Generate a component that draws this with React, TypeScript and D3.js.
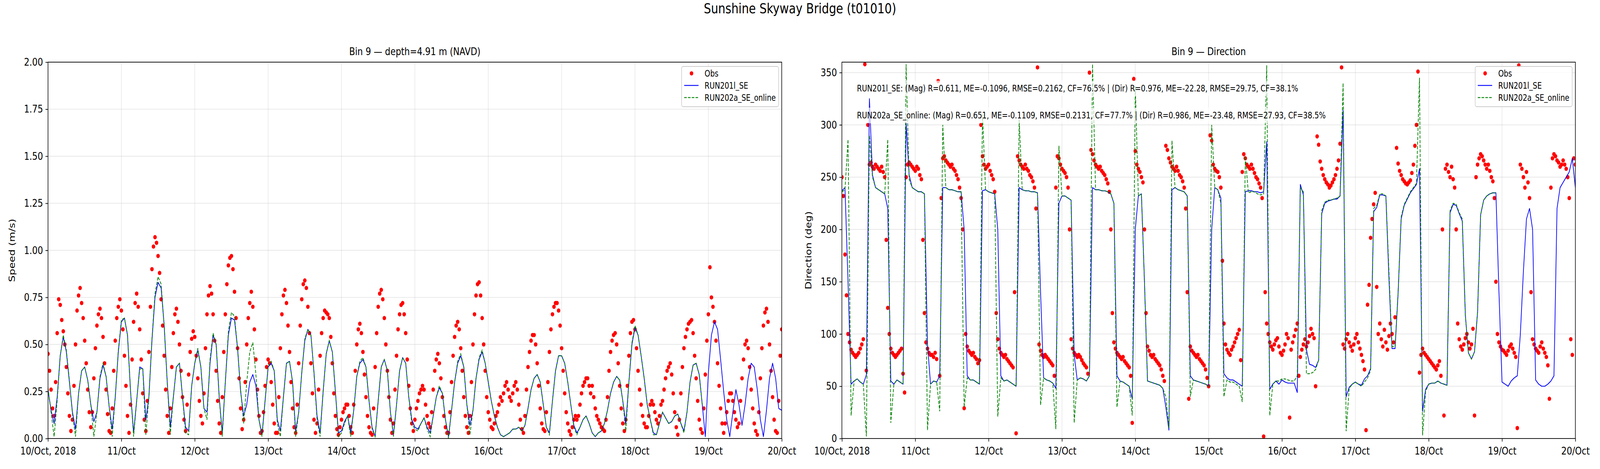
import React, { useRef, useEffect } from 'react';
import * as d3 from 'd3';

const FONT = 'DejaVu Sans, Liberation Sans, sans-serif';

// time axis: 10 Oct 2018 00:00 UTC, one tick per day
const startMs = Date.UTC(2018, 9, 10);
const HOUR_MS = 3600 * 1000;
const tickLabels = ['10/Oct, 2018', '11/Oct', '12/Oct', '13/Oct', '14/Oct', '15/Oct', '16/Oct', '17/Oct', '18/Oct', '19/Oct', '20/Oct'];
const obsStepHours = 0.5;
const modelStepHours = 1;

// observed speed (cm/s), every 30 min, 12 h per row
const obsSpeed = [
  45, 36, 26, 16, 12, 30, 56, 74, 71, 63, 57, 50, 38, 24, 12, 4, 10, 28, 50, 68, 76, 80, 72, 64,
  52, 40, 26, 14, 6, 14, 32, 48, 60, 66, 69, 64, 54, 40, 26, 13, 4, 3, 16, 36, 52, 64, 70, 74,
  68, 58, 44, 28, 12, 3, 18, 42, 62, 72, 77, 70, 58, 42, 24, 10, 4, 20, 46, 70, 90, 102, 107, 104,
  97, 88, 74, 60, 44, 26, 12, 3, 16, 38, 56, 66, 69, 62, 50, 36, 22, 10, 4, 18, 34, 46, 53, 57,
  54, 44, 32, 20, 12, 8, 24, 48, 66, 76, 81, 77, 66, 52, 36, 20, 8, 3, 22, 46, 66, 82, 92, 96,
  97, 90, 78, 64, 48, 32, 16, 5, 10, 30, 50, 64, 72, 78, 70, 58, 42, 26, 12, 3, 4, 14, 28, 38,
  42, 40, 30, 18, 8, 3, 3, 22, 48, 66, 76, 79, 72, 60, 46, 30, 16, 6, 3, 18, 40, 60, 74, 82,
  84, 80, 70, 56, 40, 24, 10, 3, 8, 26, 44, 56, 64, 68, 67, 66, 64, 54, 40, 24, 12, 5, 2, 6,
  10, 14, 16, 18, 18, 12, 6, 3, 18, 36, 50, 58, 61, 56, 46, 34, 22, 12, 6, 3, 2, 16, 38, 56,
  70, 77, 79, 74, 64, 50, 36, 22, 10, 3, 8, 26, 44, 58, 66, 71, 72, 66, 56, 42, 28, 16, 8, 4,
  10, 16, 20, 24, 26, 28, 26, 18, 12, 8, 6, 14, 26, 36, 42, 45, 40, 32, 22, 12, 6, 3, 3, 14,
  30, 44, 54, 60, 62, 58, 48, 36, 22, 12, 6, 3, 12, 30, 50, 66, 76, 82, 83, 76, 64, 50, 36, 22,
  14, 10, 6, 5, 8, 12, 14, 18, 22, 20, 24, 28, 30, 26, 22, 20, 24, 28, 30, 26, 18, 10, 5, 3,
  12, 26, 38, 46, 52, 55, 55, 50, 40, 28, 16, 8, 5, 4, 14, 30, 46, 58, 66, 70, 72, 72, 68, 60,
  48, 36, 24, 14, 8, 4, 2, 6, 10, 12, 10, 12, 18, 24, 28, 30, 32, 32, 28, 24, 28, 22, 16, 12,
  10, 8, 6, 5, 4, 10, 22, 36, 46, 52, 55, 56, 50, 40, 28, 16, 8, 4, 10, 28, 44, 56, 62, 63,
  58, 48, 36, 26, 18, 12, 8, 6, 6, 12, 18, 20, 18, 14, 10, 8, 12, 18, 20, 26, 32, 36, 38, 40,
  34, 24, 14, 6, 2, 10, 24, 38, 48, 54, 58, 61, 62, 63, 56, 44, 32, 20, 10, 5, 3, 16, 34, 52,
  66, 91, 75, 70, 62, 52, 40, 28, 16, 8, 3, 8, 14, 20, 24, 24, 20, 14, 10, 6, 8, 20, 32, 42,
  50, 52, 48, 38, 26, 16, 8, 4, 2, 14, 32, 48, 60, 67, 69, 62, 50, 36, 22, 10, 4, 3, 20, 44,
  58,
];

// observed direction (deg), every 30 min, 12 h per row
const obsDir = [
  250, 232, 176, 137, 100, 92, 85, 82, 80, 78, 80, 82, 86, 90, 95, 358, 65, 300, 262, 264, 260, 258, 262, 260,
  258, 256, 260, 255, 250, 190, 125, 100, 86, 82, 80, 78, 80, 82, 84, 86, 62, 44, 250, 262, 264, 262, 260, 258,
  256, 260, 258, 252, 248, 190, 120, 92, 86, 82, 80, 80, 78, 82, 76, 342, 60, 230, 268, 270, 266, 264, 262, 260,
  262, 258, 256, 252, 248, 240, 230, 200, 29, 100, 88, 84, 82, 80, 82, 78, 76, 72, 75, 300, 270, 262, 258, 260,
  262, 256, 252, 248, 236, 120, 95, 86, 82, 80, 78, 80, 76, 74, 72, 70, 68, 140, 5, 270, 266, 262, 260, 258,
  262, 258, 256, 252, 250, 246, 240, 220, 355, 90, 84, 80, 78, 80, 78, 76, 74, 72, 70, 60, 240, 270, 268, 262,
  258, 256, 254, 250, 240, 200, 95, 86, 82, 80, 78, 80, 78, 75, 72, 70, 68, 62, 350, 276, 272, 266, 262, 260,
  258, 260, 256, 254, 252, 248, 244, 236, 200, 120, 92, 86, 82, 80, 78, 76, 78, 74, 72, 70, 68, 60, 15, 344,
  275, 262, 258, 255, 250, 245, 200, 120, 88, 84, 80, 78, 80, 76, 74, 72, 70, 66, 60, 55, 280, 276, 268, 264,
  260, 258, 256, 260, 256, 252, 250, 246, 240, 220, 140, 38, 88, 84, 82, 80, 78, 80, 76, 74, 72, 70, 66, 58,
  50, 290, 285, 262, 258, 256, 255, 250, 240, 170, 110, 90, 85, 82, 80, 85, 88, 92, 96, 100, 104, 75, 255, 272,
  268, 262, 260, 258, 262, 258, 254, 250, 248, 244, 240, 230, 2, 140, 110, 100, 92, 88, 85, 90, 94, 96, 88, 82,
  80, 84, 90, 100, 96, 20, 85, 92, 98, 104, 110, 60, 78, 85, 90, 95, 88, 92, 98, 105, 100, 96, 50, 289,
  281, 265, 258, 252, 248, 245, 243, 240, 242, 245, 248, 252, 258, 266, 282, 355, 90, 86, 95, 100, 92, 88, 84, 90,
  96, 100, 92, 86, 80, 74, 66, 8, 128, 147, 192, 210, 224, 235, 145, 100, 110, 95, 88, 104, 92, 85, 98, 110,
  100, 92, 116, 278, 263, 256, 252, 248, 246, 244, 243, 245, 247, 254, 262, 280, 300, 351, 63, 80, 86, 82, 80, 78,
  76, 74, 72, 70, 68, 66, 70, 74, 60, 200, 22, 258, 262, 255, 250, 260, 248, 240, 200, 110, 95, 88, 85, 90,
  96, 100, 92, 86, 90, 105, 22, 250, 262, 268, 272, 270, 266, 262, 258, 262, 256, 250, 246, 230, 150, 100, 92, 88,
  85, 84, 82, 80, 84, 88, 90, 86, 82, 78, 10, 357, 262, 258, 250, 240, 255, 245, 230, 140, 95, 90, 86, 84,
  82, 88, 92, 86, 82, 78, 70, 38, 240, 268, 272, 270, 266, 264, 260, 262, 266, 262, 258, 250, 230, 95, 80, 268,
  262,
];

// RUN201l_SE modelled speed (cm/s), hourly, one day per row
const run201lSpeed = [
  26, 15, 8, 22, 44, 54, 46, 30, 14, 5, 24, 36, 38, 31, 18, 9, 14, 32, 39, 33, 17, 5, 22, 46,
  62, 64, 55, 25, 3, 20, 38, 37, 10, 22, 52, 75, 83, 80, 60, 30, 6, 22, 38, 40, 22, 6, 4, 28,
  40, 47, 38, 16, 14, 40, 55, 50, 22, 3, 30, 55, 64, 63, 48, 25, 12, 18, 30, 34, 28, 10, 2, 20,
  38, 40, 36, 10, 4, 22, 40, 41, 30, 4, 14, 35, 52, 58, 55, 35, 12, 3, 25, 45, 52, 46, 25, 3,
  4, 9, 12, 3, 15, 33, 40, 42, 38, 20, 6, 1, 20, 38, 42, 36, 14, 2, 18, 36, 43, 40, 22, 10,
  6, 5, 8, 11, 6, 3, 12, 22, 27, 24, 10, 1, 15, 30, 40, 44, 38, 18, 7, 15, 32, 42, 46, 40,
  30, 20, 12, 6, 2, 1, 2, 3, 5, 5, 6, 4, 7, 16, 26, 32, 34, 30, 18, 6, 3, 20, 36, 44,
  44, 40, 30, 18, 7, 3, 6, 10, 12, 8, 3, 1, 3, 4, 8, 15, 24, 30, 33, 31, 20, 8, 30, 50,
  59, 55, 44, 32, 18, 10, 3, 2, 8, 14, 11, 8, 9, 12, 13, 8, 4, 14, 30, 39, 40, 34, 18, 1,
  35, 55, 62, 58, 42, 25, 10, 1, 14, 26, 18, 7, 18, 32, 40, 38, 26, 10, 1, 15, 32, 40, 32, 16, 15,
];

// RUN202a_SE_online modelled speed (cm/s), hourly, ends 18/Oct 22:00
const run202aSpeed = [
  27, 14, 1, 20, 44, 55, 47, 31, 13, 1, 24, 36, 38, 31, 18, 1, 14, 33, 40, 33, 17, 1, 22, 47,
  63, 64, 55, 25, 1, 20, 37, 37, 2, 22, 53, 77, 86, 82, 60, 30, 2, 22, 38, 40, 22, 3, 2, 28,
  40, 48, 38, 16, 10, 42, 56, 50, 22, 1, 30, 57, 67, 65, 48, 26, 8, 30, 46, 51, 34, 10, 1, 20,
  38, 41, 36, 8, 1, 22, 40, 41, 30, 1, 14, 35, 53, 58, 55, 35, 10, 1, 25, 45, 52, 46, 25, 1,
  3, 8, 12, 1, 15, 33, 41, 43, 38, 20, 5, 1, 20, 38, 42, 36, 14, 1, 18, 36, 43, 40, 22, 8,
  5, 4, 8, 11, 5, 1, 12, 22, 28, 24, 10, 0, 15, 30, 41, 45, 38, 18, 2, 15, 32, 43, 47, 40,
  30, 20, 12, 6, 2, 1, 2, 3, 5, 5, 6, 4, 7, 16, 26, 32, 34, 30, 18, 6, 2, 20, 36, 44,
  44, 40, 30, 18, 6, 2, 6, 10, 12, 8, 3, 1, 3, 4, 8, 15, 24, 30, 33, 31, 20, 4, 30, 51,
  60, 55, 44, 32, 18, 10, 2, 2, 8, 14, 11, 8, 9, 12, 13, 8, 3, 14, 30, 39, 40, 34, 18,
];

// RUN201l_SE modelled direction (deg), hourly
const run201lDir = [
  237, 240, 150, 52, 55, 57, 54, 52, 61, 325, 252, 240, 238, 236, 234, 220, 55, 52, 56, 54, 52, 302, 252, 240,
  238, 236, 236, 234, 90, 52, 55, 54, 60, 240, 240, 238, 238, 237, 236, 236, 200, 60, 56, 56, 54, 52, 237, 238,
  236, 235, 234, 200, 60, 55, 56, 54, 52, 50, 240, 238, 237, 237, 236, 236, 235, 140, 58, 56, 55, 53, 48, 225,
  232, 232, 230, 228, 80, 56, 58, 57, 55, 60, 240, 238, 238, 237, 237, 236, 234, 225, 60, 55, 54, 52, 50, 38,
  200, 232, 234, 150, 55, 54, 53, 52, 51, 48, 30, 8, 238, 240, 238, 237, 236, 232, 60, 56, 55, 54, 53, 52,
  50, 200, 240, 238, 230, 62, 58, 56, 56, 54, 52, 50, 236, 237, 237, 236, 236, 235, 236, 284, 47, 52, 55, 52,
  56, 54, 53, 53, 53, 44, 243, 233, 85, 71, 70, 68, 75, 215, 225, 227, 228, 229, 229, 232, 314, 40, 49, 52,
  54, 52, 51, 57, 60, 67, 217, 221, 233, 233, 232, 153, 86, 86, 139, 210, 223, 229, 235, 239, 243, 258, 26, 47,
  52, 53, 53, 55, 53, 52, 51, 216, 224, 223, 215, 208, 118, 82, 76, 83, 121, 214, 228, 232, 234, 235, 235, 140,
  54, 52, 50, 55, 58, 60, 100, 160, 210, 220, 200, 56, 52, 50, 50, 52, 55, 60, 220, 240, 245, 250, 255, 268, 240,
];

// RUN202a_SE_online modelled direction (deg), hourly, ends 18/Oct 22:00
const run202aDir = [
  236, 238, 286, 22, 55, 57, 54, 52, 2, 290, 250, 240, 238, 236, 234, 286, 15, 52, 56, 54, 52, 358, 248, 240,
  238, 236, 236, 234, 8, 52, 55, 54, 26, 300, 240, 238, 238, 237, 236, 236, 30, 58, 56, 56, 54, 52, 310, 238,
  236, 235, 234, 21, 58, 55, 56, 54, 52, 50, 305, 238, 237, 237, 236, 236, 235, 32, 58, 56, 55, 53, 9, 280,
  232, 232, 230, 228, 15, 56, 58, 57, 55, 60, 358, 238, 238, 237, 237, 236, 234, 225, 30, 55, 54, 52, 50, 22,
  337, 232, 234, 150, 55, 54, 53, 52, 51, 48, 40, 10, 285, 240, 238, 237, 236, 232, 40, 56, 55, 54, 53, 52,
  50, 300, 240, 238, 225, 40, 56, 54, 54, 52, 50, 35, 270, 235, 236, 236, 234, 233, 234, 357, 22, 52, 55, 55,
  57, 57, 56, 55, 55, 60, 240, 236, 62, 62, 63, 66, 75, 218, 226, 228, 228, 229, 230, 232, 340, 7, 48, 52,
  54, 52, 50, 54, 58, 65, 220, 223, 234, 234, 232, 160, 88, 88, 140, 212, 224, 230, 236, 240, 244, 345, 3, 45,
  52, 53, 53, 55, 53, 52, 51, 218, 225, 224, 216, 210, 118, 82, 76, 83, 121, 214, 228, 232, 234, 235, 235,
];

const speedTicks = [0, 0.25, 0.5, 0.75, 1.0, 1.25, 1.5, 1.75, 2.0];
const dirTicks = [0, 50, 100, 150, 200, 250, 300, 350];
const legendLabels = ['Obs', 'RUN201l_SE', 'RUN202a_SE_online'];
const statLines = [
  'RUN201l_SE: (Mag) R=0.611, ME=-0.1096, RMSE=0.2162, CF=76.5% | (Dir) R=0.976, ME=-22.28, RMSE=29.75, CF=38.1%',
  'RUN202a_SE_online: (Mag) R=0.651, ME=-0.1109, RMSE=0.2131, CF=77.7% | (Dir) R=0.986, ME=-23.48, RMSE=27.93, CF=38.5%',
];

type Pt = { t: Date; v: number };

const toSeries = (vals: number[], stepH: number, scale = 1): Pt[] =>
  vals.map((v, i) => ({ t: new Date(startMs + i * stepH * HOUR_MS), v: v * scale }));

const tickDates = tickLabels.map((_, i) => new Date(startMs + i * 24 * HOUR_MS));

function drawPanel(svg: any, p: any) {
  const x = d3.scaleUtc().domain([tickDates[0], tickDates[tickDates.length - 1]]).range([p.left, p.right]);
  const y = d3.scaleLinear().domain(p.yDomain).range([p.bottom, p.top]);
  const g = svg.append('g');

  g.append('clipPath').attr('id', p.key)
    .append('rect')
    .attr('x', p.left).attr('y', p.top)
    .attr('width', p.right - p.left).attr('height', p.bottom - p.top);

  // light grid
  const grid = g.append('g').attr('stroke', '#b0b0b0').attr('stroke-opacity', 0.3).attr('stroke-width', 1.8);
  grid.selectAll('.vx').data(tickDates).join('line').attr('class', 'vx')
    .attr('x1', (d: Date) => x(d)).attr('x2', (d: Date) => x(d))
    .attr('y1', p.top).attr('y2', p.bottom);
  grid.selectAll('.hy').data(p.yTicks).join('line').attr('class', 'hy')
    .attr('x1', p.left).attr('x2', p.right)
    .attr('y1', (d: number) => y(d)).attr('y2', (d: number) => y(d));

  const plot = g.append('g').attr('clip-path', `url(#${p.key})`);
  plot.selectAll('circle').data(p.obs).join('circle')
    .attr('cx', (d: Pt) => x(d.t)).attr('cy', (d: Pt) => y(d.v))
    .attr('r', 5.5).attr('fill', '#ff0000');

  const line = d3.line<Pt>().x(d => x(d.t)).y(d => y(d.v));
  plot.append('path').attr('d', line(p.m1)).attr('fill', 'none')
    .attr('stroke', '#0000ff').attr('stroke-width', 2.2).attr('stroke-linejoin', 'round');
  plot.append('path').attr('d', line(p.m2)).attr('fill', 'none')
    .attr('stroke', '#008000').attr('stroke-width', 2.2).attr('stroke-dasharray', '8.2,3.6');

  // axes
  const styleAxis = (a: any) => {
    a.select('.domain').remove();
    a.attr('font-family', FONT).attr('font-size', 26.7);
    a.selectAll('line').attr('stroke', '#000').attr('stroke-width', 1.8);
    a.selectAll('text').attr('fill', '#000');
  };
  g.append('g').attr('transform', `translate(0,${p.bottom})`)
    .call(d3.axisBottom(x).tickValues(tickDates).tickFormat((_: any, i: number) => tickLabels[i]).tickSize(7.8).tickPadding(14))
    .call(styleAxis);
  g.append('g').attr('transform', `translate(${p.left},0)`)
    .call(d3.axisLeft(y).tickValues(p.yTicks).tickFormat(p.yFormat).tickSize(7.8).tickPadding(7.8))
    .call(styleAxis);

  // spines
  g.append('rect').attr('x', p.left).attr('y', p.top)
    .attr('width', p.right - p.left).attr('height', p.bottom - p.top)
    .attr('fill', 'none').attr('stroke', '#000').attr('stroke-width', 1.8);

  g.append('text').attr('x', (p.left + p.right) / 2).attr('y', 141)
    .attr('text-anchor', 'middle').attr('font-family', FONT).attr('font-size', 26.7)
    .text(p.title);

  g.append('text')
    .attr('transform', `translate(${p.yLabelX},${(p.top + p.bottom) / 2}) rotate(-90)`)
    .attr('text-anchor', 'middle').attr('font-family', FONT).attr('font-size', 26.7)
    .text(p.yLabel);

  // stats text with translucent white boxes
  (p.stats || []).forEach((s: string, i: number) => {
    const sg = g.append('g');
    const bg = sg.append('rect').attr('fill', '#fff').attr('fill-opacity', 0.7);
    const t = sg.append('text').attr('x', p.left + 47).attr('y', 234 + i * 69)
      .attr('font-family', FONT).attr('font-size', 22.2).text(s);
    const bb = (t.node() as SVGTextElement).getBBox();
    bg.attr('x', bb.x - 6.7).attr('y', bb.y - 6.7)
      .attr('width', bb.width + 13.4).attr('height', bb.height + 13.4);
  });

  // legend
  const bx = p.right - 10 - 303;
  const by = p.top + 11;
  const lg = g.append('g').attr('font-family', FONT).attr('font-size', 22.2);
  lg.append('rect').attr('x', bx).attr('y', by).attr('width', 303).attr('height', 103)
    .attr('rx', 5).attr('fill', '#fff').attr('fill-opacity', 0.8)
    .attr('stroke', '#cccccc').attr('stroke-width', 1.8);
  legendLabels.forEach((lab, i) => {
    const cy = by + 17.7 + i * 31;
    if (i === 0) {
      lg.append('circle').attr('cx', bx + 31).attr('cy', cy).attr('r', 5.5).attr('fill', '#ff0000');
    } else {
      lg.append('line').attr('x1', bx + 8).attr('x2', bx + 53).attr('y1', cy).attr('y2', cy)
        .attr('stroke', i === 1 ? '#0000ff' : '#008000').attr('stroke-width', 2.2)
        .attr('stroke-dasharray', i === 2 ? '8.2,3.6' : null);
    }
    lg.append('text').attr('x', bx + 72).attr('y', cy + 8).text(lab);
  });
}

export default function App() {
  const svgRef = useRef<SVGSVGElement | null>(null);

  useEffect(() => {
    if (!svgRef.current) return;
    document.body.style.margin = '0';
    document.body.style.overflow = 'hidden';
    const svg = d3.select(svgRef.current);
    svg.selectAll('*').remove();

    svg.append('rect').attr('width', 5000).attr('height', 1200).attr('fill', '#fff');

    svg.append('text').attr('x', 2500).attr('y', 34)
      .attr('text-anchor', 'middle').attr('font-family', FONT).attr('font-size', 35.5)
      .text('Sunshine Skyway Bridge (t01010)');

    drawPanel(svg, {
      key: 'clip-speed',
      left: 150, right: 2443, top: 159, bottom: 1122,
      yDomain: [0, 2], yTicks: speedTicks, yFormat: d3.format('.2f'),
      title: 'Bin 9 \u2014 depth=4.91 m (NAVD)', yLabel: 'Speed (m/s)', yLabelX: 46,
      obs: toSeries(obsSpeed, obsStepHours, 0.01),
      m1: toSeries(run201lSpeed, modelStepHours, 0.01),
      m2: toSeries(run202aSpeed, modelStepHours, 0.01),
    });

    drawPanel(svg, {
      key: 'clip-dir',
      left: 2631, right: 4923, top: 159, bottom: 1122,
      yDomain: [0, 360], yTicks: dirTicks, yFormat: d3.format('d'),
      title: 'Bin 9 \u2014 Direction', yLabel: 'Direction (deg)', yLabelX: 2536,
      obs: toSeries(obsDir, obsStepHours),
      m1: toSeries(run201lDir, modelStepHours),
      m2: toSeries(run202aDir, modelStepHours),
      stats: statLines,
    });
  }, []);

  return (
    <svg
      ref={svgRef}
      viewBox="0 0 5000 1200"
      preserveAspectRatio="none"
      style={{ position: 'absolute', left: 0, top: 0, width: '100vw', height: '100vh', display: 'block' }}
    />
  );
}
